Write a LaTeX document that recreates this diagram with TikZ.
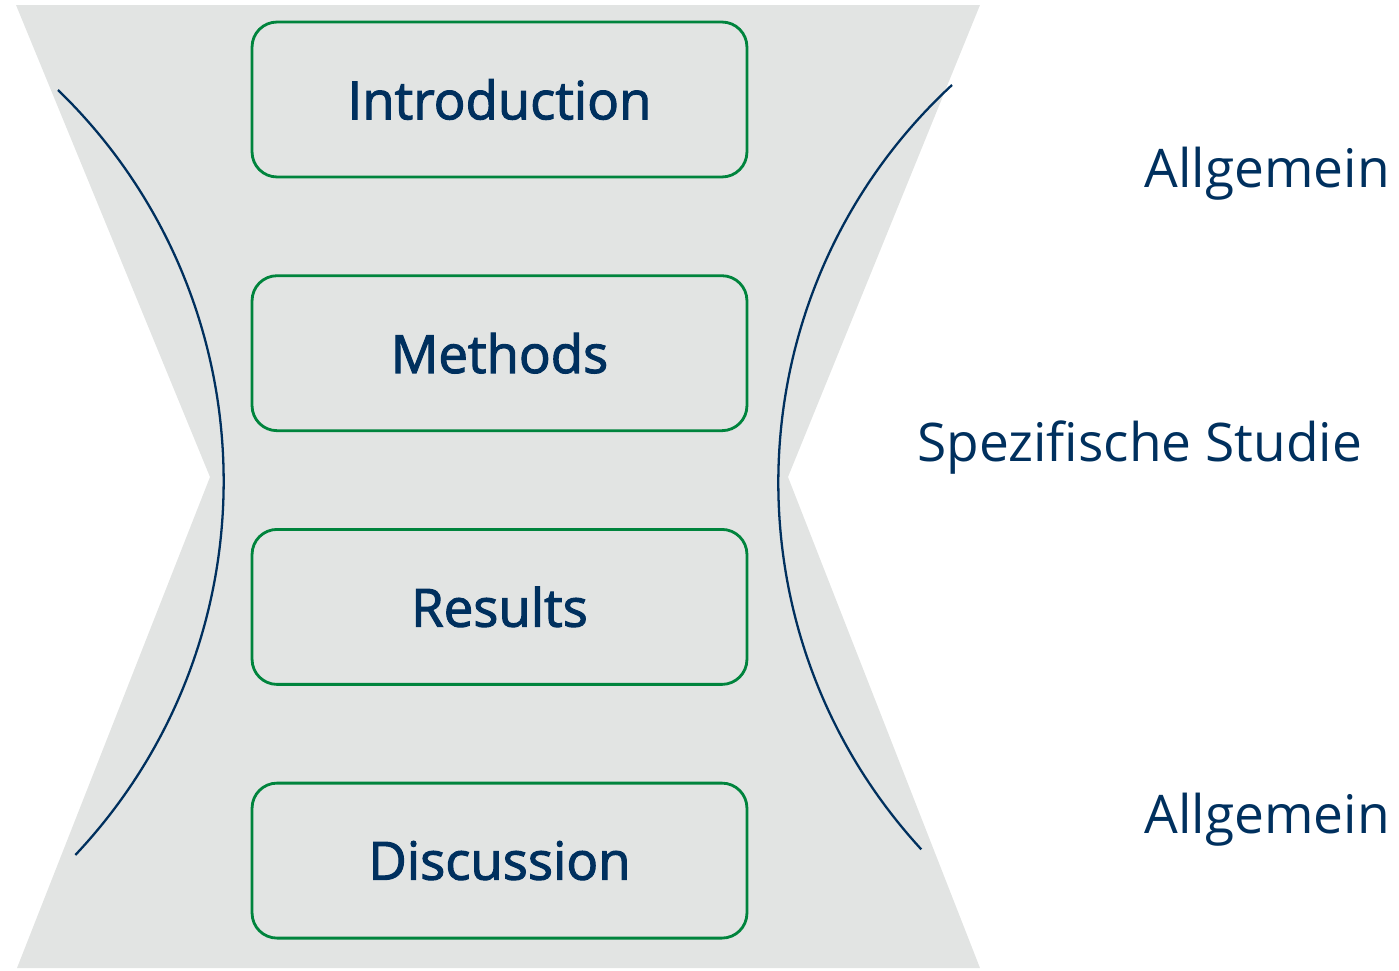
\documentclass[tikz,border=0pt]{standalone}
\usepackage{fontspec}
\setmainfont{Open Sans}
\newfontfamily\boxfont{Open Sans}[FakeBold=2]
\usepackage{tikz}
\usetikzlibrary{positioning}
\definecolor{hgray}{RGB}{226,228,227}
\definecolor{hblue}{RGB}{0,48,94}
\definecolor{hgreen}{RGB}{0,132,61}

\begin{document}
\begin{tikzpicture}[x=0.02cm,y=-0.02cm,
    part/.style={draw=hgreen,line width=1.6pt,rounded corners=0.5cm,outer sep=0pt,
        minimum width=9.9cm,minimum height=3.1cm,text=hblue,
        font=\boxfont\fontsize{30}{36}\selectfont},
    level/.style={text=hblue,font=\fontsize{30.3}{36}\selectfont,inner sep=0pt},
    node distance=1.975cm]
    \useasboundingbox (0,0) rectangle (1399,970);

    % hourglass background
    \fill[hgray] (16,5) -- (980,5) -- (788,477) -- (210,477) -- cycle;
    \fill[hgray] (210,477) -- (788,477) -- (980,968) -- (17,968) -- cycle;

    % sections of the paper
    \node[part] (intro) at (499.5,99.5) {Introduction};
    \node[part,below=of intro] (methods) {Methods};
    \node[part,below=of methods] (results) {Results};
    \node[part,below=of results] (disc) {Discussion};

    % bent sides
    \draw[hblue,line width=1.3pt] (58,90) arc[start angle=45.9,end angle=-43.3,radius=10.9cm];
    \draw[hblue,line width=1.3pt] (952,85) arc[start angle=132.8,end angle=222.6,radius=10.84cm];

    % scope labels
    \node[level,anchor=base east] (topgen) at (1390,187) {Allgemein};
    \node[level,anchor=base west] (spec) at (917,461) {Spezifische Studie};
    \node[level,anchor=base east] (botgen) at (1390,833) {Allgemein};
\end{tikzpicture}
\end{document}
